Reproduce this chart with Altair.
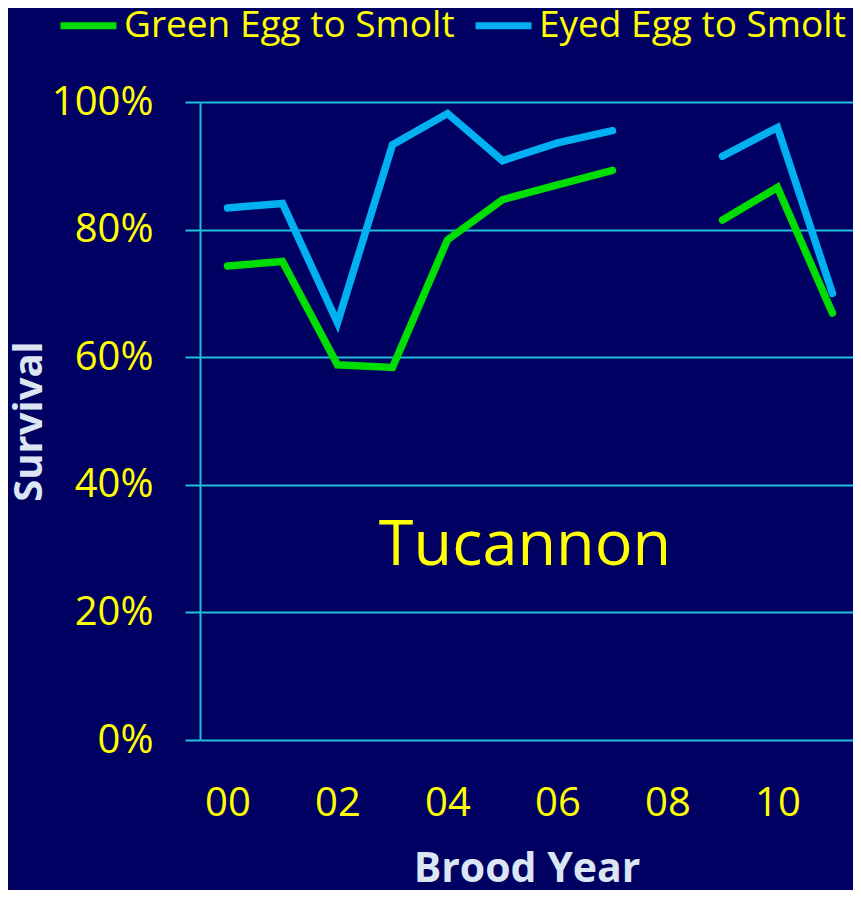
import altair as alt
import pandas as pd

# ---- data ----
years = [0, 1, 2, 3, 4, 5, 6, 7, 9, 10, 11]          # brood year (2000-2011), 2008 missing
green_egg = [74.3, 75.0, 58.8, 58.4, 78.4, 84.7, 87.0, 89.3, 81.5, 86.6, 66.9]
eyed_egg = [83.4, 84.1, 65.4, 93.3, 98.2, 90.8, 93.6, 95.5, 91.5, 96.0, 70.0]
series_names = ["Green Egg to Smolt", "Eyed Egg to Smolt"]
series_colors = ["#00DD00", "#00B0F0"]
y_ticks = [0, 20, 40, 60, 80, 100]
x_ticks = [0, 2, 4, 6, 8, 10]
annot_text = ["Tucannon"]
annot_x = [5.41]
annot_y = [27.4]

rows = []
for name, vals in zip(series_names, [green_egg, eyed_egg]):
    for yr, v in zip(years, vals):
        rows.append({"year": yr, "survival": v, "series": name,
                     "seg": 0 if yr < 8 else 1})
df = pd.DataFrame(rows)
ann = pd.DataFrame({"text": annot_text, "x": annot_x, "y": annot_y})

BG = "#000062"
GRID = "#1FC0D8"
YELLOW = "#FFFF00"
TITLE = "#DCE6F2"
FONT = "Open Sans"

x_scale = alt.Scale(domain=[-0.5, 11.373], nice=False, zero=False)
y_scale = alt.Scale(domain=[0, 100], nice=False)

lines = alt.Chart(df).mark_line(strokeWidth=7.5, strokeCap="round", strokeJoin="miter").encode(
    x=alt.X("year:Q", scale=x_scale, title="Brood Year",
            axis=alt.Axis(values=x_ticks,
                          labelExpr="datum.value < 10 ? '0' + datum.value : '' + datum.value",
                          domain=False, ticks=False, grid=False,
                          labelFont=FONT, labelFontSize=40, labelColor=YELLOW,
                          labelPadding=43,
                          titleFont=FONT, titleFontSize=41, titleFontWeight="bold",
                          titleColor=TITLE, titlePadding=26)),
    y=alt.Y("survival:Q", scale=y_scale, title="Survival",
            axis=alt.Axis(values=y_ticks, labelExpr="datum.value + '%'",
                          domain=True, domainColor=GRID, domainWidth=2,
                          ticks=True, tickColor=GRID, tickWidth=2, tickSize=15,
                          grid=True, gridColor=GRID, gridWidth=2,
                          labelFont=FONT, labelFontSize=40, labelColor=YELLOW,
                          labelPadding=32,
                          titleFont=FONT, titleFontSize=40, titleFontWeight="bold",
                          titleColor=TITLE, titleX=-171, titleY=319,
                          titleAngle=270, titleAlign="center",
                          titleBaseline="middle")),
    color=alt.Color("series:N",
                    scale=alt.Scale(domain=series_names, range=series_colors),
                    legend=alt.Legend(orient="none", legendX=-143, legendY=-108,
                                      direction="horizontal", title=None,
                                      symbolType="stroke", symbolSize=3136,
                                      symbolStrokeWidth=7,
                                      labelFont=FONT, labelFontSize=37,
                                      labelColor=YELLOW, labelOffset=4,
                                      columnPadding=6, labelLimit=400)),
    detail="seg:N",
    order="year:Q",
)

text = alt.Chart(ann).mark_text(font=FONT, fontSize=63, color=YELLOW,
                                align="center", baseline="alphabetic").encode(
    x=alt.X("x:Q", scale=x_scale),
    y=alt.Y("y:Q", scale=y_scale),
    text="text:N",
)

chart = alt.layer(lines, text).properties(
    width=653, height=638,
    autosize=alt.AutoSizeParams(type="none"),
    padding={"left": 192, "top": 94, "right": 0, "bottom": 150},
    background=BG,
).configure_view(stroke=None)

chart.save("out.html", embed_options={"renderer": "svg", "actions": False})
